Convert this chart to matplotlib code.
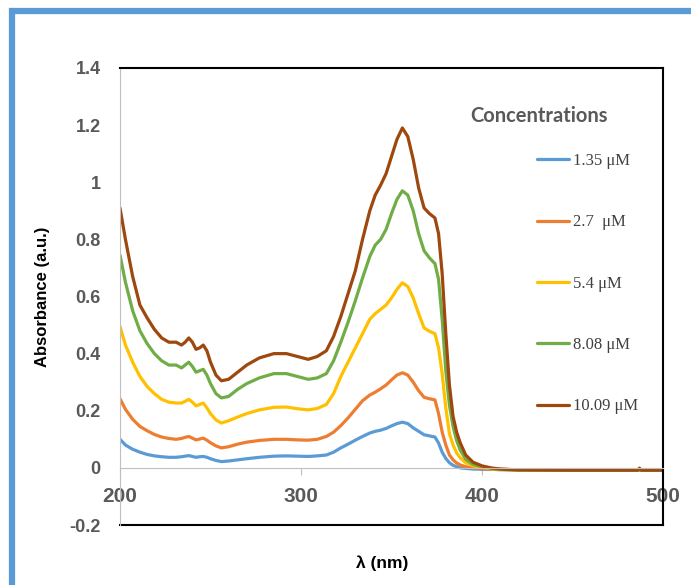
import matplotlib
matplotlib.use("Agg")
import matplotlib.pyplot as plt
from matplotlib.patches import Rectangle

# Wavelength grid (nm) and absorbance
wavelength = [200, 203, 207, 211, 215, 219, 223, 227, 231, 234, 236, 238, 240, 242,
              244, 246, 248, 250, 253, 256, 260, 265, 270, 277, 285, 292, 298, 304,
              309, 314, 318, 322, 326, 330, 334, 338, 341, 344, 347, 350, 353, 356,
              359, 362, 365, 368, 371, 374, 376, 378, 380, 382, 384, 386, 388, 391,
              395, 400, 405, 410, 420, 450, 486, 487, 488, 500]

abs_1_35 = [0.100, 0.080, 0.065, 0.055, 0.047, 0.042, 0.039, 0.037, 0.037, 0.039, 0.041,
            0.043, 0.040, 0.037, 0.039, 0.040, 0.037, 0.032, 0.026, 0.022, 0.024, 0.028,
            0.032, 0.037, 0.041, 0.042, 0.041, 0.040, 0.042, 0.045, 0.055, 0.070, 0.083,
            0.097, 0.110, 0.122, 0.128, 0.132, 0.138, 0.147, 0.155, 0.160, 0.155, 0.140,
            0.128, 0.116, 0.112, 0.108, 0.087, 0.055, 0.033, 0.018, 0.009, 0.004, 0.000,
            -0.002, -0.004, -0.005, -0.005, -0.006, -0.007, -0.008, -0.008, -0.008,
            -0.008, -0.008]

abs_2_7 = [0.242, 0.205, 0.170, 0.145, 0.130, 0.117, 0.108, 0.103, 0.100, 0.103, 0.107,
           0.110, 0.104, 0.098, 0.101, 0.104, 0.097, 0.088, 0.077, 0.070, 0.074, 0.083,
           0.090, 0.096, 0.100, 0.100, 0.098, 0.097, 0.100, 0.110, 0.125, 0.148, 0.175,
           0.205, 0.235, 0.255, 0.265, 0.277, 0.290, 0.308, 0.325, 0.333, 0.325, 0.300,
           0.270, 0.247, 0.242, 0.238, 0.190, 0.125, 0.080, 0.045, 0.028, 0.017, 0.010,
           0.004, 0.000, -0.003, -0.005, -0.006, -0.007, -0.008, -0.008, -0.008,
           -0.008, -0.008]

abs_5_4 = [0.495, 0.430, 0.370, 0.320, 0.285, 0.260, 0.240, 0.230, 0.227, 0.227, 0.233,
           0.240, 0.230, 0.217, 0.222, 0.227, 0.210, 0.190, 0.168, 0.157, 0.165, 0.178,
           0.190, 0.203, 0.212, 0.213, 0.207, 0.203, 0.208, 0.222, 0.260, 0.320, 0.370,
           0.420, 0.470, 0.520, 0.540, 0.555, 0.570, 0.595, 0.625, 0.648, 0.635, 0.595,
           0.540, 0.490, 0.478, 0.470, 0.420, 0.330, 0.210, 0.120, 0.080, 0.052, 0.035,
           0.018, 0.007, 0.002, -0.003, -0.005, -0.007, -0.008, -0.008, -0.008,
           -0.008, -0.008]

abs_8_08 = [0.745, 0.650, 0.550, 0.480, 0.435, 0.400, 0.375, 0.360, 0.360, 0.350, 0.360,
            0.370, 0.355, 0.335, 0.340, 0.345, 0.325, 0.295, 0.260, 0.245, 0.250, 0.275,
            0.295, 0.315, 0.330, 0.330, 0.320, 0.310, 0.315, 0.330, 0.375, 0.440, 0.510,
            0.585, 0.665, 0.740, 0.780, 0.800, 0.835, 0.890, 0.940, 0.970, 0.955, 0.900,
            0.820, 0.760, 0.735, 0.715, 0.660, 0.520, 0.340, 0.220, 0.145, 0.095, 0.062,
            0.030, 0.012, 0.004, -0.002, -0.005, -0.007, -0.008, -0.008, -0.008,
            -0.008, -0.008]

abs_10_09 = [0.910, 0.800, 0.670, 0.570, 0.525, 0.485, 0.455, 0.440, 0.440, 0.430, 0.440,
             0.455, 0.440, 0.415, 0.420, 0.430, 0.410, 0.370, 0.325, 0.305, 0.310, 0.335,
             0.360, 0.385, 0.400, 0.400, 0.390, 0.380, 0.390, 0.410, 0.460, 0.530, 0.610,
             0.690, 0.800, 0.900, 0.955, 0.990, 1.030, 1.090, 1.150, 1.190, 1.160, 1.080,
             0.980, 0.910, 0.890, 0.875, 0.820, 0.680, 0.470, 0.290, 0.180, 0.125, 0.087,
             0.045, 0.020, 0.007, 0.000, -0.004, -0.007, -0.008, -0.008, -0.001,
             -0.008, -0.008]

series_labels = ["1.35 \u03bcM", "2.7  \u03bcM", "5.4 \u03bcM", "8.08 \u03bcM", "10.09 \u03bcM"]
series_values = [abs_1_35, abs_2_7, abs_5_4, abs_8_08, abs_10_09]
series_colors = ["#5B9BD5", "#ED7D31", "#FFC000", "#70AD47", "#9E480E"]

x_ticks = [200, 300, 400, 500]
y_ticks = [-0.2, 0, 0.2, 0.4, 0.6, 0.8, 1, 1.2, 1.4]
y_tick_labels = ["-0.2", "0", "0.2", "0.4", "0.6", "0.8", "1", "1.2", "1.4"]

fig = plt.figure(figsize=(6.91, 5.85), dpi=100, facecolor="white")
ax = fig.add_axes([120 / 691, 1 - 525 / 585, 543 / 691, 457 / 585])

for vals, lab, col in zip(series_values, series_labels, series_colors):
    ax.plot(wavelength, vals, color=col, lw=2.3, label=lab,
            solid_capstyle="round", solid_joinstyle="round")

ax.set_xlim(200, 500)
ax.set_ylim(-0.2, 1.4)

# excel style: horizontal axis crosses at zero, box border around plot area
ax.spines["bottom"].set_position(("data", 0))
ax.spines["bottom"].set_color("#BFBFBF")
ax.spines["left"].set_color("#BFBFBF")
for s in ["top", "right"]:
    ax.spines[s].set_color("black")
    ax.spines[s].set_linewidth(1.5)
ax.plot([0, 1], [0, 0], transform=ax.transAxes, color="black", lw=1.5, clip_on=False)

ax.set_xticks(x_ticks)
ax.set_yticks(y_ticks)
ax.set_yticklabels(y_tick_labels)
ax.tick_params(axis="x", direction="out", length=5, color="#BFBFBF", pad=9,
               labelsize=15, labelcolor="#595959")
ax.tick_params(axis="y", length=0, pad=14, labelsize=13, labelcolor="#595959")
for t in ax.get_xticklabels() + ax.get_yticklabels():
    t.set_fontfamily("Liberation Sans")
    t.set_fontweight("bold")

fig.text(43 / 691, 1 - 297 / 585, "Absorbance (a.u.)", rotation=90, ha="center", va="center",
         fontsize=12, fontweight="bold", family="Liberation Sans")
fig.text(382 / 691, 1 - 563 / 585, "\u03bb (nm)", ha="center", va="center",
         fontsize=12.5, fontweight="bold", family="Liberation Sans")

fig.text(470 / 691, 1 - 116 / 585, "Concentrations", ha="left", va="center",
         fontsize=14.5, fontweight="bold", family="Lato", color="#595959")
leg = ax.legend(loc="upper left", bbox_to_anchor=((537 - 120) / 543, (525 - 153) / 457),
                frameon=False, borderpad=0, borderaxespad=0, handlelength=1.9,
                handletextpad=0.25, labelspacing=2.72,
                prop={"family": "Liberation Serif", "size": 12})
for t in leg.get_texts():
    t.set_color("#404040")

# blue outer frame, running off the right and bottom edges
fig.patches.append(Rectangle((12 / 691, -0.1), 1.1, 1.1 - 11 / 585,
                             transform=fig.transFigure, fill=False,
                             edgecolor="#5B9BD5", lw=4.5))

fig.savefig("out.png", dpi=100, facecolor="white")
